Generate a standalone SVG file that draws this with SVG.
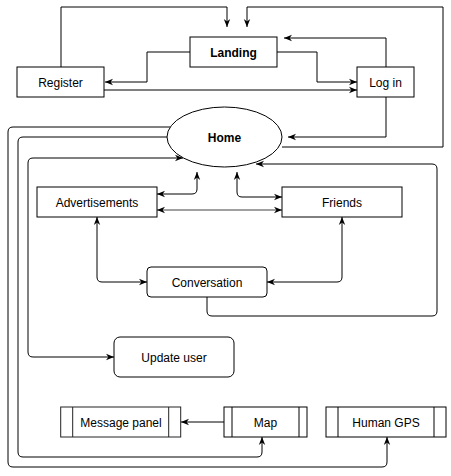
<svg xmlns="http://www.w3.org/2000/svg" width="451" height="476" viewBox="0 0 451 476">
<defs>
<marker id="a" viewBox="0 0 10 10" refX="10" refY="5" markerWidth="8" markerHeight="8" markerUnits="userSpaceOnUse" orient="auto-start-reverse">
<path d="M0,1 L10,5 L0,9 L3,5 z" fill="#000"/>
</marker>
<style>
.n{fill:#fff;stroke:#000;stroke-width:1}
.t{font-family:"Liberation Sans",Arial,sans-serif;font-size:12px;fill:#000;text-anchor:middle;dominant-baseline:central}
.b{font-weight:bold}
.e{fill:none;stroke:#000;stroke-width:1}
.e1{marker-end:url(#a)}
.e2{marker-start:url(#a);marker-end:url(#a)}
</style>
</defs>
<rect width="451" height="476" fill="#fff"/>
<g id="connectors">
<path class="e e1" d="M61,67 V7 H227 V27"/>
<path class="e e1" d="M282,147 H443 V7 H247 V27"/>
<path class="e e1" d="M386,67 V38 H284"/>
<path class="e e1" d="M190,52 H147 V82 H105"/>
<path class="e e1" d="M277,52 H317 V82 H357"/>
<path class="e e1" d="M104,90 H357"/>
<path class="e e1" d="M386,97 V137 H288"/>
<path class="e e1" d="M170,127 H13 Q8,127 8,132 V462 Q8,467 13,467 H382 Q387,467 387,462 V437"/>
<path class="e e1" d="M167,137 H23 Q18,137 18,142 V452 Q18,457 23,457 H257 Q262,457 262,452 V437"/>
<path class="e e1" d="M224,422 H181"/>
<path class="e e2" d="M183,158 H33 Q28,158 28,163 V352 Q28,357 33,357 H114"/>
<path class="e e1" d="M207,297 V311 Q207,316 212,316 H432 Q437,316 437,311 V169 Q437,164 432,164 H256"/>
<path class="e e2" d="M157,194 H192 Q197,194 197,189 V172"/>
<path class="e e2" d="M237,172 V192 Q237,197 242,197 H282"/>
<path class="e e2" d="M157,210 H282" style="stroke:#808080;stroke-width:1.5"/>
<path class="e e2" d="M97,217 V277 Q97,282 102,282 H147"/>
<path class="e e2" d="M342,217 V277 Q342,282 337,282 H267"/>
</g>
<g id="landing"><rect class="n" x="190" y="37" width="87" height="30"/><text class="t b" x="233.5" y="53">Landing</text></g>
<g id="register"><rect class="n" x="17" y="67" width="87" height="30"/><text class="t" x="60.5" y="83">Register</text></g>
<g id="login"><rect class="n" x="357" y="67" width="57" height="30"/><text class="t" x="385.5" y="83">Log in</text></g>
<g id="home"><ellipse class="n" cx="224.5" cy="137" rx="57.5" ry="30"/><text class="t b" x="224.5" y="138">Home</text></g>
<g id="advertisements"><rect class="n" x="37" y="187" width="120" height="30"/><text class="t" x="97" y="203">Advertisements</text></g>
<g id="friends"><rect class="n" x="282" y="187" width="120" height="30"/><text class="t" x="342" y="203">Friends</text></g>
<g id="conversation"><rect class="n" x="147" y="267" width="120" height="30" rx="4"/><text class="t" x="207" y="283">Conversation</text></g>
<g id="update-user"><rect class="n" x="114" y="337" width="120" height="40" rx="6"/><text class="t" x="174" y="358">Update user</text></g>
<g id="message-panel"><rect class="n" x="60.7" y="407" width="120" height="30" style="stroke:#222"/><path d="M72.7,407 V437 M168.7,407 V437" stroke="#222" fill="none"/><text class="t" x="121" y="423">Message panel</text></g>
<g id="map"><rect class="n" x="224" y="407" width="83" height="30"/><path d="M232,407 V437 M299,407 V437" stroke="#000" fill="none"/><text class="t" x="265.5" y="423">Map</text></g>
<g id="human-gps"><rect class="n" x="326" y="407" width="120" height="30"/><path d="M338,407 V437 M434,407 V437" stroke="#000" fill="none"/><text class="t" x="386" y="423">Human GPS</text></g>
</svg>
